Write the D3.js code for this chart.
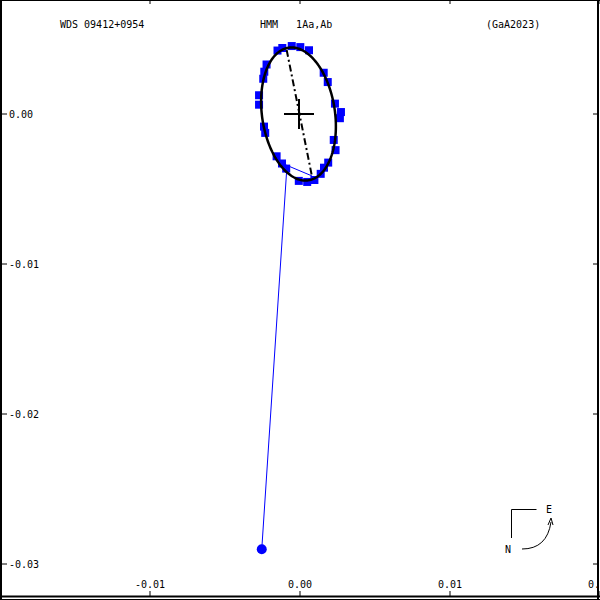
<!DOCTYPE html>
<html><head><meta charset="utf-8">
<script src="https://cdn.jsdelivr.net/npm/d3@7"></script>
<style>html,body{margin:0;padding:0;background:#fff;}svg{display:block;}</style>
</head><body>
<script>
// ---- data ----
const titleLeft = "WDS 09412+0954";
const titleMid = "HMM   1Aa,Ab";
const titleRight = "(GaA2023)";
const xTicks = [-0.01, 0.00, 0.01, 0.02];
const xTickLabels = ["-0.01", "0.00", "0.01", "0.02"];
const yTicks = [0.00, -0.01, -0.02, -0.03];
const yTickLabels = ["0.00", "-0.01", "-0.02", "-0.03"];
// observed positions (blue squares)
const obsX = [-0.00150,-0.00118,-0.00055,0.00002,0.00060,0.00158,0.00185,0.00233,0.00273,0.00266,0.00225,0.00237,0.00188,0.00160,0.00138,0.00096,0.00048,-0.00008,-0.00092,-0.00120,-0.00156,-0.00232,-0.00240,-0.00273,-0.00273,-0.00245,-0.00238,-0.00223];
const obsY = [0.00423,0.00440,0.00453,0.00446,0.00425,0.00275,0.00213,0.00069,0.00013,-0.00028,-0.00173,-0.00241,-0.00324,-0.00358,-0.00399,-0.00440,-0.00453,-0.00446,-0.00364,-0.00330,-0.00282,-0.00126,-0.00084,0.00062,0.00125,0.00235,0.00282,0.00330];
// outlier observation and residual segments
const outlier = [-0.00255, -0.02902];
const residFrom = [[-0.00255, -0.02902], [-0.00093, -0.00340]];
const residTo = [[-0.00090, -0.00393], [0.00080, -0.00413]];
// orbit ellipse (center, semi-axes, major-axis direction)
const orbitCenter = [-0.0001, 0.0];
const orbitSemiMajor = 0.00447;
const orbitSemiMinor = 0.00243;
const orbitMajorDir = [0.1476, -0.989];
// line of nodes
const nodeLine = [[-0.00089, 0.00427], [0.00078, -0.00407]];
const primary = [0, 0];

// ---- drawing ----
const W = 600, H = 600;
const x = d3.scaleLinear().domain([-0.02, 0.02]).range([0, 600]);
const y = d3.scaleLinear().domain([0.0076, -0.0324]).range([0, 600]);
const font = "'DejaVu Sans Mono', 'Liberation Mono', monospace";

const svg = d3.select("body").append("svg").attr("width", W).attr("height", H);
svg.append("rect").attr("width", W).attr("height", H).attr("fill", "#fff");

// titles
const tg = svg.append("g").attr("font-family", font).attr("font-size", 10).attr("fill", "#000");
tg.append("text").attr("x", 60).attr("y", 28).text(titleLeft);
tg.append("text").attr("x", 260).attr("y", 28).attr("xml:space", "preserve").style("white-space", "pre").text(titleMid);
tg.append("text").attr("x", 486).attr("y", 28).text(titleRight);

// residual lines
svg.append("g").selectAll("line").data(residFrom).join("line")
  .attr("x1", d => x(d[0])).attr("y1", d => y(d[1]))
  .attr("x2", (d, i) => x(residTo[i][0])).attr("y2", (d, i) => y(residTo[i][1]))
  .attr("stroke", "#0000ff").attr("stroke-width", 1);

// observations
const obs = obsX.map((v, i) => [v, obsY[i]]);
svg.append("g").selectAll("rect").data(obs).join("rect")
  .attr("x", d => x(d[0]) - 4).attr("y", d => y(d[1]) - 4)
  .attr("width", 8).attr("height", 8).attr("fill", "#0000ff");
svg.append("circle").attr("cx", x(outlier[0])).attr("cy", y(outlier[1])).attr("r", 5).attr("fill", "#0000ff");

// orbit ellipse
const ux = orbitMajorDir[0], uy = orbitMajorDir[1];
const vx = -uy, vy = ux;
const ePts = d3.range(0, 361, 2).map(deg => {
  const t = deg * Math.PI / 180;
  const c = Math.cos(t) * orbitSemiMajor, s = Math.sin(t) * orbitSemiMinor;
  return [orbitCenter[0] + c * ux + s * vx, orbitCenter[1] + c * uy + s * vy];
});
svg.append("path").attr("d", d3.line().x(d => x(d[0])).y(d => y(d[1]))(ePts))
  .attr("fill", "none").attr("stroke", "#000").attr("stroke-width", 2.5);

// line of nodes
svg.append("line").attr("x1", x(nodeLine[0][0])).attr("y1", y(nodeLine[0][1]))
  .attr("x2", x(nodeLine[1][0])).attr("y2", y(nodeLine[1][1]))
  .attr("stroke", "#000").attr("stroke-width", 2).attr("stroke-dasharray", "7,3,2,3");

// primary cross
const px = x(primary[0]) - 1, py = y(primary[1]);
svg.append("line").attr("x1", px - 15).attr("x2", px + 15).attr("y1", py).attr("y2", py).attr("stroke", "#000").attr("stroke-width", 2);
svg.append("line").attr("x1", px).attr("x2", px).attr("y1", py - 15).attr("y2", py + 15).attr("stroke", "#000").attr("stroke-width", 2);

// frame
const fr = svg.append("g").attr("stroke", "#000").attr("fill", "none");
fr.append("line").attr("x1", 1).attr("x2", 1).attr("y1", 0).attr("y2", 600).attr("stroke-width", 2);
fr.append("line").attr("x1", 0).attr("x2", 600).attr("y1", 0.5).attr("y2", 0.5).attr("stroke-width", 1);
fr.append("line").attr("x1", 598).attr("x2", 598).attr("y1", 0).attr("y2", 600).attr("stroke-width", 2);
fr.append("line").attr("x1", 0).attr("x2", 600).attr("y1", 596.5).attr("y2", 596.5).attr("stroke-width", 2);
fr.append("line").attr("x1", 0).attr("x2", 600).attr("y1", 599.5).attr("y2", 599.5).attr("stroke-width", 1);

// x ticks
const ax = svg.append("g");
ax.selectAll("line.bt").data(xTicks).join("line").attr("class", "bt")
  .attr("x1", d => x(d)).attr("x2", d => x(d)).attr("y1", 591).attr("y2", 596).attr("stroke", "#000");
ax.selectAll("line.tt").data(xTicks).join("line").attr("class", "tt")
  .attr("x1", d => x(d)).attr("x2", d => x(d)).attr("y1", 0).attr("y2", 4).attr("stroke", "#000");
ax.selectAll("text").data(xTicks).join("text")
  .attr("x", d => x(d)).attr("y", 588).attr("text-anchor", "middle")
  .attr("font-family", font).attr("font-size", 10).text((d, i) => xTickLabels[i]);

// y ticks
const ay = svg.append("g");
ay.selectAll("line.lt").data(yTicks).join("line").attr("class", "lt")
  .attr("x1", 2).attr("x2", 7).attr("y1", d => y(d)).attr("y2", d => y(d)).attr("stroke", "#000");
ay.selectAll("line.rt").data(yTicks).join("line").attr("class", "rt")
  .attr("x1", 593).attr("x2", 597).attr("y1", d => y(d)).attr("y2", d => y(d)).attr("stroke", "#000");
ay.selectAll("text").data(yTicks).join("text")
  .attr("x", 9).attr("y", d => y(d) + 4)
  .attr("font-family", font).attr("font-size", 10).text((d, i) => yTickLabels[i]);

// compass
const cg = svg.append("g").attr("stroke", "#000").attr("fill", "none").attr("stroke-width", 1);
cg.append("path").attr("d", "M536.5,509.5 H511.5 V538");
cg.append("path").attr("d", "M522,549 Q547,549 551,522");
cg.append("path").attr("d", "M548,525 L551,518 L553,525").attr("stroke-width", 1);
const ct = svg.append("g").attr("font-family", font).attr("font-size", 10).attr("fill", "#000");
ct.append("text").attr("x", 549).attr("y", 513).attr("text-anchor", "middle").text("E");
ct.append("text").attr("x", 508).attr("y", 553).attr("text-anchor", "middle").text("N");
</script>
</body></html>
